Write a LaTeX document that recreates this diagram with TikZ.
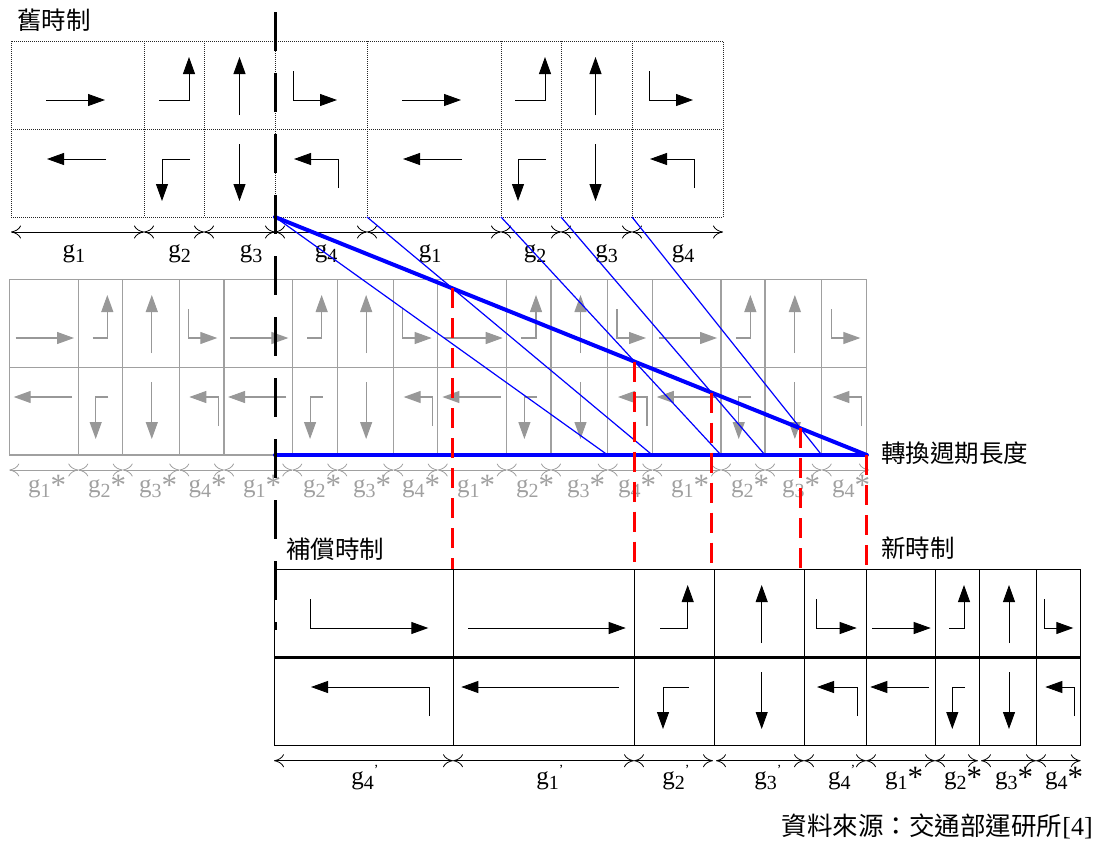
\documentclass[tikz,border=0pt]{standalone}
\usepackage{fontspec}
\setmainfont{Liberation Serif}
\newfontfamily\cjk{Noto Sans CJK TC}
\usetikzlibrary{arrows.meta,intersections}
\definecolor{grline}{HTML}{A0A0A0}
\definecolor{grarrow}{HTML}{989898}
\definecolor{bluel}{HTML}{0000FF}
\definecolor{redl}{HTML}{FF0000}

\newcommand\gsub[1]{g\raisebox{-5pt}{\fontsize{20}{20}\selectfont #1}}
\newcommand\gstar[1]{\gsub{#1}\raisebox{-3pt}{\fontsize{31}{31}\selectfont *}}
\newcommand\gprm[1]{\gsub{#1}\raisebox{10pt}{\fontsize{14}{14}\selectfont ’}}

% arrow cells: m = middle line y
\newcommand\arThru[4]{%
  \draw[arw] ({#1},{#3-29}) -- ({#2},{#3-29});
  \draw[arw] ({#2+#4},{#3+30}) -- ({#1+#4},{#3+30});}
\newcommand\arLTurn[3]{%
  \draw[arw] ({#1},{#3-29}) -- ({#2},{#3-29}) -- ({#2},{#3-72});
  \draw[arw] ({#2+1},{#3+30}) -- ({#1+3},{#3+30}) -- ({#1+3},{#3+72});}
\newcommand\arStr[2]{%
  \draw[arw] ({#1},{#2-14}) -- ({#1},{#2-72});
  \draw[arw] ({#1},{#2+15}) -- ({#1},{#2+72});}
\newcommand\arRTurn[3]{%
  \draw[arw] ({#1},{#3-58}) -- ({#1},{#3-29}) -- ({#2},{#3-29});
  \draw[arw] ({#2+1},{#3+59}) -- ({#2+1},{#3+30}) -- ({#1+1},{#3+30});}

\begin{document}
\begin{tikzpicture}[x=1pt,y=-1pt,
  tipstyle/.style={-{Triangle[length=17pt,width=12pt]}},
  topgrid/.style={draw=black!85,line width=0.7pt,dash pattern=on 1pt off 1pt},
  midgrid/.style={draw=grline,line width=1.3pt},
  botgrid/.style={draw=black,line width=1pt},
  dimblack/.style={{Computer Modern Rightarrow[length=10pt,width=13pt]}-{Computer Modern Rightarrow[length=10pt,width=13pt]},line width=0.8pt,draw=black},
  dimgrey/.style={dimblack,draw=grline},
  lab/.style={anchor=base,inner sep=0pt,font=\fontsize{25}{25}\selectfont},
  cjklab/.style={inner sep=0pt,font=\cjk\fontsize{24.5}{24.5}\selectfont},
  thickblue/.style={draw=bluel,line width=4pt,line cap=round},
  thinblue/.style={draw=bluel,line width=1.2pt},
  reddash/.style={draw=redl,line width=2.8pt,dash pattern=on 20pt off 10pt},
  blackdash/.style={draw=black,line width=3pt,dash pattern=on 39pt off 22pt}]
\useasboundingbox (0,0) rectangle (1106,841);

% ---------- old timing (top) ----------
\begin{scope}[arw/.style={tipstyle,line width=0.9pt,draw=black}]
\draw[topgrid] (11,41) rectangle (723,217);
\draw[topgrid] (11,129) -- (723,129);
\foreach \x in {144,204,275,367,501,561,632} \draw[topgrid] (\x,41) -- (\x,217);
\foreach \c in {11,367} {
  \arThru{\c+35}{\c+94}{129}{1}
  \arLTurn{\c+148}{\c+178}{129}
  \arStr{\c+228.5}{129}
  \arRTurn{\c+282}{\c+326}{129}
}
\end{scope}
\foreach \a/\b in {11/144,144/204,204/275,275/367,367/501,501/561,561/632,632/723}
  \draw[dimblack] (\a,232) -- (\b,232);
\node[lab] (o1) at (73.8,257) {\gsub{1}};
\node[lab] (o2) at (179.6,257) {\gsub{2}};
\node[lab] (o3) at (251,257) {\gsub{3}};
\node[lab] (o4) at (326,257) {\gsub{4}};
\node[lab] (o5) at (430,257) {\gsub{1}};
\node[lab] (o6) at (535,257) {\gsub{2}};
\node[lab] (o7) at (606.5,257) {\gsub{3}};
\node[lab] (o8) at (683,257) {\gsub{4}};
\node[cjklab,anchor=west] (oldt) at (17,20) {舊時制};

% ---------- transition (middle, grey) ----------
\begin{scope}[arw/.style={tipstyle,line width=1.1pt,draw=grarrow}]
\draw[midgrid] (9.3,279.3) rectangle (866.7,455);
\draw[midgrid] (9.3,367.3) -- (866.7,367.3);
\foreach \x in {78.3,122.7,179.3,224,292.3,337.3,393.3,437.7,506.7,551,607.7,652.3,721,765,821.7}
  \draw[midgrid] (\x,279.3) -- (\x,455);
\foreach \c in {9.3,223.65,438,652.35} {
  \arThru{\c+6.4}{\c+64.7}{367}{-2}
  \arLTurn{\c+83.4}{\c+98}{367}
  \arStr{\c+142.5}{367}
  \arRTurn{\c+179}{\c+208}{367}
}
\end{scope}
\foreach \a/\b in {9.3/78.3,78.3/122.7,122.7/179.3,179.3/224,224/292.3,292.3/337.3,337.3/393.3,393.3/437.7,437.7/506.7,506.7/551,551/607.7,607.7/652.3,652.3/721,721/765,765/821.7,821.7/869}
  \draw[dimgrey] (\a,470) -- (\b,470);
\begin{scope}[every node/.style={lab,text=grline}]
\node (m1) at (47,492) {\gstar{1}};
\node (m2) at (107,492) {\gstar{2}};
\node (m3) at (158,492) {\gstar{3}};
\node (m4) at (207.5,492) {\gstar{4}};
\node (m5) at (262,492) {\gstar{1}};
\node (m6) at (322,492) {\gstar{2}};
\node (m7) at (372,492) {\gstar{3}};
\node (m8) at (421,492) {\gstar{4}};
\node (m9) at (476,492) {\gstar{1}};
\node (m10) at (535,492) {\gstar{2}};
\node (m11) at (586,492) {\gstar{3}};
\node (m12) at (637,492) {\gstar{4}};
\node (m13) at (690,492) {\gstar{1}};
\node (m14) at (750,492) {\gstar{2}};
\node (m15) at (801,492) {\gstar{3}};
\node (m16) at (851,492) {\gstar{4}};
\end{scope}

% ---------- new timing (bottom) ----------
\begin{scope}[arw/.style={tipstyle,line width=0.9pt,draw=black}]
\draw[botgrid] (274,569) rectangle (1080.7,745.5);
\draw[draw=black,line width=2.2pt] (274,657.5) -- (1080.7,657.5);
\foreach \x in {453,634,714.5,804,866,935,979.3,1036}
  \draw[botgrid] (\x,569) -- (\x,745.5);
\arRTurn{310}{428.3}{657}
\arThru{468.3}{625.7}{657}{-7}
\arLTurn{660}{687.7}{657}
\arStr{761.7}{657}
\arRTurn{816}{856.7}{657}
\arThru{872.3}{930.7}{657}{-2}
\arLTurn{949.3}{964}{657}
\arStr{1009}{657}
\arRTurn{1044.3}{1073.3}{657}
\end{scope}
\foreach \a/\b in {274/453,453/634,634/713,716/804,804/866,866/935,935/978,981/1036,1036/1080.7}
  \draw[dimblack] (\a,760.7) -- (\b,760.7);
\node[lab] (n1) at (365,784) {\gprm{4}};
\node[lab] (n2) at (550,784) {\gprm{1}};
\node[lab] (n3) at (676,784) {\gprm{2}};
\node[lab] (n4) at (768,784) {\gprm{3}};
\node[lab] (n5) at (841.7,784) {\gprm{4}};
\node[lab] (n6) at (904,784) {\gstar{1}};
\node[lab] (n7) at (963,784) {\gstar{2}};
\node[lab] (n8) at (1014,784) {\gstar{3}};
\node[lab] (n9) at (1064,784) {\gstar{4}};

% ---------- conversion lines ----------
\coordinate (s0) at (275,217);
\coordinate (s1) at (367,217);
\coordinate (s2) at (501,217);
\coordinate (s3) at (561,217);
\coordinate (s4) at (632,217);
\coordinate (e0) at (607.7,455);
\coordinate (e1) at (652.3,455);
\coordinate (e2) at (721,455);
\coordinate (e3) at (765,455);
\coordinate (e4) at (821.7,455);
\coordinate (base0) at (275,455);
\coordinate (endp) at (866.7,455);
\coordinate (newtop) at (0,569);

\draw[thinblue] (s0) -- (e0);
\draw[thinblue,name path=t1] (s1) -- (e1);
\draw[thinblue,name path=t2] (s2) -- (e2);
\draw[thinblue,name path=t3] (s3) -- (e3);
\draw[thinblue,name path=t4] (s4) -- (e4);
\draw[thickblue,name path=diag] (s0) -- (endp);
\draw[thickblue] (base0) -- (endp);

\path[name intersections={of=diag and t1,by=i1}];
\path[name intersections={of=diag and t2,by=i2}];
\path[name intersections={of=diag and t3,by=i3}];
\path[name intersections={of=diag and t4,by=i4}];
\foreach \p in {i1,i2,i3,i4,endp}
  \draw[reddash] (\p) -- (\p |- newtop);

\coordinate (dtop) at (275,12);
\coordinate (dbot) at (275,630);
\draw[blackdash] (dtop) -- (dbot);

% ---------- texts ----------
\node[cjklab,anchor=west] (conv) at (881,453.5) {轉換週期長度};
\node[cjklab,anchor=west] (comp) at (286,549) {補償時制};
\node[cjklab,anchor=west] (newt) at (881,548) {新時制};
\node[cjklab,anchor=east,font=\cjk\fontsize{25.5}{25.5}\selectfont] (src) at (1093,826.5) {資料來源：交通部運研所{\rmfamily\fontsize{26}{26}\selectfont[4]}};
\end{tikzpicture}
\end{document}
